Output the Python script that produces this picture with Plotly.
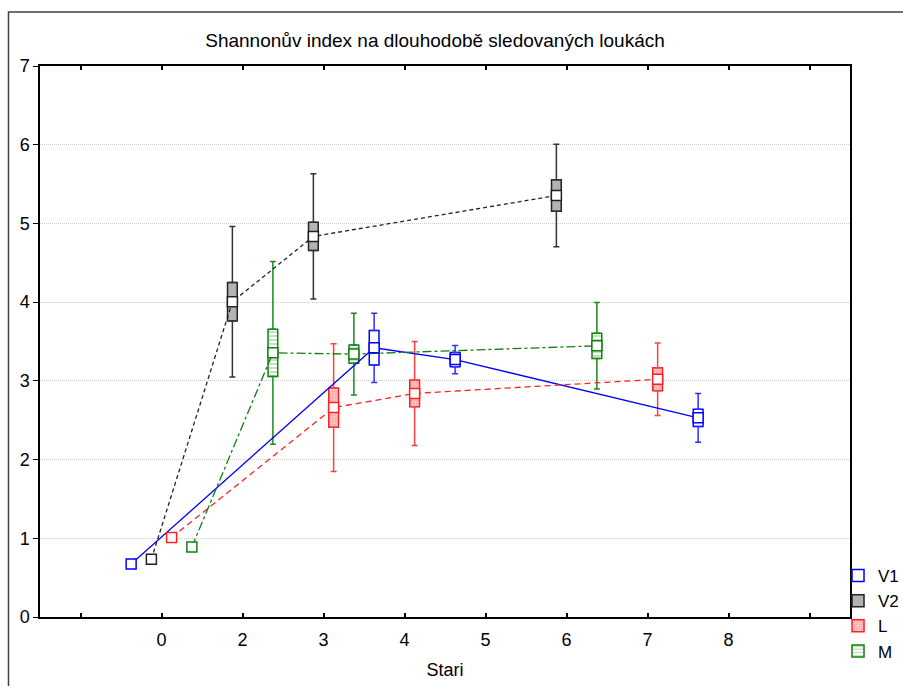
import plotly.graph_objects as go

# ---- data ----
categories = ["", "0", "2", "3", "4", "5", "6", "7", "8", ""]
series_names = ["V1", "V2", "L", "M"]

V1_stari = ["0", "4", "5", "8"]
V1_mean = [0.672, 3.42, 3.27, 2.53]
V1_se = [None, 0.22, 0.09, 0.11]
V1_sd = [None, 0.44, 0.18, 0.31]

V2_stari = ["0", "2", "3", "6"]
V2_mean = [0.735, 4.005, 4.835, 5.355]
V2_se = [None, 0.245, 0.18, 0.20]
V2_sd = [None, 0.955, 0.795, 0.65]

L_stari = ["0", "3", "4", "7"]
L_mean = [1.01, 2.66, 2.84, 3.02]
L_se = [None, 0.25, 0.17, 0.145]
L_sd = [None, 0.81, 0.66, 0.46]

M_stari = ["0", "2", "3", "6"]
M_mean = [0.89, 3.356, 3.34, 3.445]
M_se = [None, 0.30, 0.115, 0.16]
M_sd = [None, 1.16, 0.52, 0.55]

data = {
    "V1": (V1_stari, V1_mean, V1_se, V1_sd),
    "V2": (V2_stari, V2_mean, V2_se, V2_sd),
    "L": (L_stari, L_mean, L_se, L_sd),
    "M": (M_stari, M_mean, M_se, M_sd),
}

# ---- styles ----
slot = {"V1": -0.375, "V2": -0.125, "L": 0.125, "M": 0.375}
color = {"V1": "#0000ff", "V2": "#222222", "L": "#ff2020", "M": "#108010"}
whisk_color = {"V1": "#3030ff", "V2": "#333333", "L": "#ff4040", "M": "#1a8a1a"}
dash = {"V1": "solid", "V2": "4px,3px", "L": "6px,4px", "M": "9px,3px,3px,3px"}
pattern = {
    "V1": dict(shape="", bgcolor="white", fgcolor="white"),
    "V2": dict(shape="x", bgcolor="#b8b8b8", fgcolor="#8a8a8a", size=3, solidity=0.3),
    "L": dict(shape=".", bgcolor="#ffc4c4", fgcolor="#ff8080", size=3, solidity=0.3),
    "M": dict(shape="-", bgcolor="white", fgcolor="#4caf4c", size=4, solidity=0.35),
}
box_w = 0.12

fig = go.Figure()

# boxes (mean +- SE)
for name in series_names:
    st, mean, se, sd = data[name]
    xs, base, h = [], [], []
    for s, m, e in zip(st, mean, se):
        if e is None:
            continue
        xs.append(categories.index(s) + slot[name])
        base.append(m - e)
        h.append(2 * e)
    fig.add_trace(go.Bar(
        x=xs, y=h, base=base, width=box_w, name=name,
        marker=dict(color=pattern[name]["bgcolor"],
                    line=dict(color=color[name], width=1.5),
                    pattern=pattern[name]),
        showlegend=True, hoverinfo="skip",
    ))

# whiskers (SE edge -> SD)
for name in series_names:
    st, mean, se, sd = data[name]
    xs, yu, yl, eu, el = [], [], [], [], []
    for s, m, e, d in zip(st, mean, se, sd):
        if e is None:
            continue
        xs.append(categories.index(s) + slot[name])
        yu.append(m + e)
        yl.append(m - e)
        eu.append(d - e)
        el.append(d - e)
    common = dict(mode="markers", marker=dict(size=1, color="rgba(0,0,0,0)"),
                  showlegend=False, hoverinfo="skip")
    fig.add_trace(go.Scatter(
        x=xs, y=yu,
        error_y=dict(type="data", symmetric=False, array=eu, arrayminus=[0] * len(eu),
                     color=whisk_color[name], thickness=1.5, width=3),
        **common))
    fig.add_trace(go.Scatter(
        x=xs, y=yl,
        error_y=dict(type="data", symmetric=False, array=[0] * len(el), arrayminus=el,
                     color=whisk_color[name], thickness=1.5, width=3),
        **common))

# mean lines + markers
for name in series_names:
    st, mean, se, sd = data[name]
    xs = [categories.index(s) + slot[name] for s in st]
    fig.add_trace(go.Scatter(
        x=xs, y=mean, mode="lines", line=dict(color=color[name], width=1.3, dash=dash[name]),
        showlegend=False, hoverinfo="skip"))
for name in series_names:
    st, mean, se, sd = data[name]
    xs = [categories.index(s) + slot[name] for s in st]
    fig.add_trace(go.Scatter(
        x=xs, y=mean, mode="markers",
        marker=dict(symbol="square", size=10, color="white",
                    line=dict(color=color[name], width=1.5)),
        showlegend=False))

font_family = "Liberation Sans, Arial, sans-serif"
fig.update_layout(
    width=903, height=686,
    margin=dict(l=40, r=53, t=66, b=69, autoexpand=False),
    paper_bgcolor="white", plot_bgcolor="white",
    barmode="overlay",
    font=dict(family=font_family, size=18, color="black"),
    title=dict(text="Shannonův index na dlouhodobě sledovaných loukách",
               x=435 / 903, xanchor="center", y=1 - 40 / 686, yanchor="middle",
               font=dict(size=19, family=font_family, color="black")),
    xaxis=dict(range=[-0.5, 9.5], tickmode="array", tickvals=list(range(len(categories))),
               ticktext=categories, ticks="inside", ticklen=4, tickwidth=1.5, tickcolor="black",
               ticklabelstandoff=6,
               showline=True, linecolor="black", linewidth=1.5, mirror="ticks",
               showgrid=False, zeroline=False,
               title=dict(text="Stari", standoff=14, font=dict(size=18))),
    yaxis=dict(range=[0, 7], dtick=1, ticks="outside", ticklen=5, tickwidth=1, tickcolor="black",
               showline=True, linecolor="black", linewidth=1.5, mirror=True,
               showgrid=True, gridcolor="#cccccc", griddash="1px,1px", gridwidth=1,
               zeroline=False),
    legend=dict(x=0.9852, xanchor="left", y=0.107, yanchor="top",
                font=dict(size=17), bgcolor="rgba(0,0,0,0)",
                tracegroupgap=0, itemwidth=30),
    shapes=[dict(type="rect", xref="paper", yref="paper",
                 x0=(8.5 - 40) / 810, x1=3, y0=-3, y1=(617 - 12) / 551,
                 line=dict(color="#404040", width=1.5), layer="below")],
)

fig.write_html("out.html")
